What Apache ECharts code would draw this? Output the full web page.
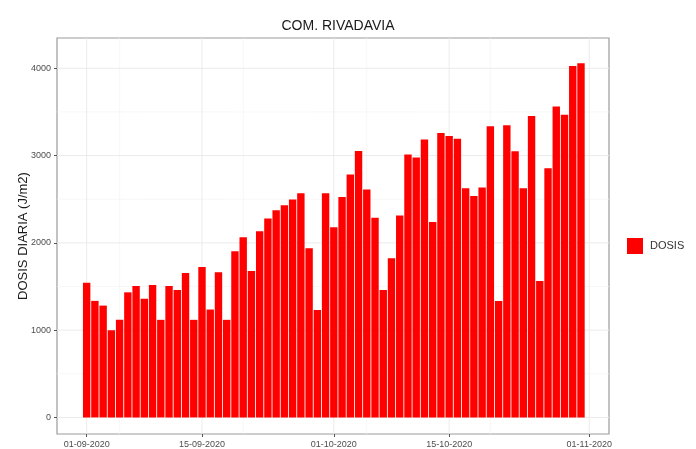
<!DOCTYPE html>
<html>
<head>
<meta charset="utf-8">
<script src="https://cdn.jsdelivr.net/npm/echarts@6/dist/echarts.min.js"></script>
<style>html,body{margin:0;padding:0;background:#fff;}#c{width:696px;height:449px;}</style>
</head>
<body>
<div id="c"></div>
<script>
// Daily dose values, 01-09-2020 .. 31-10-2020 (one per day)
var dosis = [1544,1335,1281,1000,1118,1433,1506,1361,1517,1118,
             1506,1460,1654,1118,1722,1236,1662,1118,1905,2065,
             1677,2133,2278,2373,2430,2498,2567,1939,1232,2567,
             2179,2525,2783,3053,2612,2289,1460,1825,2312,3011,
             2977,3183,2240,3259,3224,3194,2627,2536,2635,3335,
             1335,3346,3049,2627,3452,1563,2856,3563,3468,4027,
             4057];
// day offsets (from 01-09-2020) of the x tick labels
var xTickDays = [0, 14, 30, 44, 61];
var xTickLabels = ['01-09-2020','15-09-2020','01-10-2020','15-10-2020','01-11-2020'];
var xMinorDays = [4, 19, 34, 49];
var yTicks = [0, 1000, 2000, 3000, 4000];
var yMinor = [500, 1500, 2500, 3500];

var X_MIN = -3.6, X_MAX = 63.4, Y_MIN = -190, Y_MAX = 4347;
var barData = dosis.map(function(v, i){ return [i, v]; });
var FONT = 'Liberation Sans, Arial, sans-serif';

function gridPath(ys, xs){
  var d = [];
  ys.forEach(function(v){ d.push([X_MIN, v]); d.push([X_MAX, v]); d.push('-'); });
  xs.forEach(function(v){ d.push([v, Y_MIN]); d.push([v, Y_MAX]); d.push('-'); });
  return d;
}

var chart = echarts.init(document.getElementById('c'), null, {renderer:'canvas'});
chart.setOption({
  animation:false,
  backgroundColor:'#ffffff',
  textStyle:{fontFamily:FONT},
  title:{text:'COM. RIVADAVIA', left:333, textAlign:'center', top:14,
    textStyle:{fontSize:14, fontWeight:'normal', color:'#1a1a1a', fontFamily:FONT}},
  legend:{data:['DOSIS'], left:622, top:233, orient:'vertical', icon:'rect',
    itemWidth:16, itemHeight:16,
    textStyle:{fontSize:11, color:'#333', fontFamily:FONT, padding:[0,0,0,2]}},
  grid:{left:57, top:38, right:87, bottom:13, show:true, borderColor:'#9b9b9b', borderWidth:1.2, backgroundColor:'#fff'},
  xAxis:{type:'value', min:X_MIN, max:X_MAX,
    axisLine:{show:false, onZero:false},
    splitLine:{show:false},
    axisTick:{show:true, length:3, customValues:xTickDays, lineStyle:{color:'#555'}},
    axisLabel:{customValues:xTickDays, margin:6, fontSize:9, color:'#4d4d4d', fontFamily:FONT,
      formatter:function(v){ var k = xTickDays.indexOf(Math.round(v)); return k>=0 ? xTickLabels[k] : ''; }}
  },
  yAxis:{type:'value', min:Y_MIN, max:Y_MAX,
    name:'DOSIS DIARIA (J/m2)', nameLocation:'middle', nameRotate:90, nameGap:27, nameMoveOverlap:false,
    nameTextStyle:{fontSize:13, color:'#1a1a1a', fontFamily:FONT},
    axisLine:{show:false, onZero:false},
    splitLine:{show:false},
    axisTick:{show:true, length:3, customValues:yTicks, lineStyle:{color:'#555'}},
    axisLabel:{customValues:yTicks, margin:6, fontSize:9, color:'#4d4d4d', fontFamily:FONT,
      formatter:function(v){ return String(v); }}
  },
  series:[
    {type:'line', name:'minorGrid', data:gridPath(yMinor, xMinorDays), z:1, silent:true,
      showSymbol:false, symbol:'none', connectNulls:false,
      lineStyle:{color:'#f3f3f3', width:0.7}},
    {type:'line', name:'majorGrid', data:gridPath(yTicks, xTickDays), z:1, silent:true,
      showSymbol:false, symbol:'none', connectNulls:false,
      lineStyle:{color:'#ebebeb', width:1}},
    {type:'bar', name:'DOSIS', data:barData, barWidth:7.4, z:3,
      itemStyle:{color:'#ff0000'}}
  ]
});
</script>
</body>
</html>
